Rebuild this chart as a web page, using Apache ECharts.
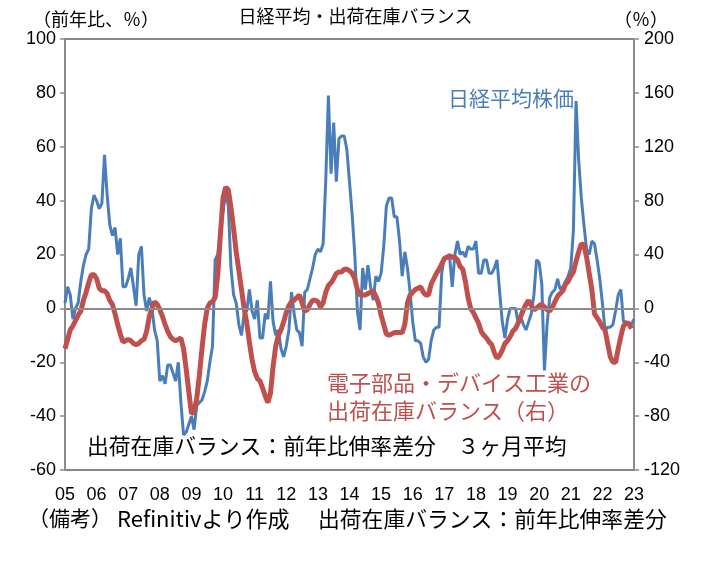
<!DOCTYPE html>
<html>
<head>
<meta charset="utf-8">
<script src="https://cdn.jsdelivr.net/npm/echarts@6/dist/echarts.min.js"></script>
<style>
  html, body { margin: 0; padding: 0; background: #fff; }
  #chart { width: 711px; height: 561px; }
</style>
</head>
<body>
<div id="chart"></div>
<script>
// 月次: 2005年1月〜2023年1月
const startYear = 2005;
const months = [];
for (let i = 0; i < 217; i++) {
  const y = startYear + Math.floor(i / 12);
  const m = (i % 12) + 1;
  months.push(y + "-" + (m < 10 ? "0" + m : m));
}

// 日経平均株価 前年比 (%) 左軸
const nikkei = [
  2, 8, 5, -4, 0, 2, 10, 16, 20, 22, 37, 42,
  40, 37, 39, 57, 42, 31, 27, 30, 20, 26, 8, 8,
  11, 15, 8, 1, 20, 23, 5, -1, 4, 0, -8, -12,
  -27, -25, -28, -21, -21, -24, -27, -20, -35, -47, -46, -43,
  -40, -45, -36, -35, -34, -31, -27, -20, -14, 18, 20, 30,
  36, 43, 38, 15, 5, 2, -6, -10, -2, -1, 7, -1,
  -4, 3, -11, -11, -2, -4, 10, -5, -10, -8, -15, -18,
  -14, -8, 6, -2, -8, -9, -14, 6, 7, 11, 15, 20,
  22, 21, 24, 48, 79, 50, 69, 47, 63, 64, 64, 59,
  47, 35, 20, -1, -8, 15, 7, 16, 8, 3, 12, 10,
  13, 23, 38, 41, 41, 34, 34, 25, 12, 21, 15, 6,
  -5, -12, -12, -13, -18, -20, -19, -12, -8, -7, -7, 13,
  19, 19, 19, 8, 20, 25, 20, 21, 19, 23, 22, 22,
  25, 13, 13, 18, 18, 13, 13, 15, 18, 6, -5, -11,
  -4, 0, 0, 0, -5, -3, -6, -8, -5, -2, 5, 18,
  17, 9, -23, -6, 4, 6, 7, 11, 7, 8, 10, 12,
  15, 29, 77, 55, 41, 31, 22, 20, 25, 24, 18, 11,
  2, -8, -7, -7, -6, -1, 5, 7, -5, -5, -6, -6,
  -4
];

// 電子部品・デバイス工業 出荷在庫バランス 3ヶ月平均 右軸
const balance = [
  -30, -23, -16, -13, -9, -5, -2, 6, 12, 19, 25, 25,
  22, 15, 13, 13, 11, 6, 3, -4, -12, -19, -25, -24,
  -23, -24, -26, -27, -26, -24, -23, -17, -6, 0, 5, 3,
  -1, -6, -12, -17, -21, -23, -24, -23, -22, -30, -45, -62,
  -78, -77, -67, -50, -30, -12, 0, 4, 5, 8, 25, 55,
  82, 90, 88, 75, 59, 42, 28, 14, 0, -11, -25, -38,
  -47, -52, -54, -59, -65, -70, -63, -43, -28, -20, -16, -10,
  -3, 2, 5, 6, 8, 10, 4, -2, -1, 3, 6, 6,
  5, 1, 4, 12, 17, 19, 22, 26, 27, 27, 29, 29,
  28, 26, 22, 14, 10, 10, 10, 11, 12, 13, 9, 4,
  -5, -12, -19, -20, -19, -18, -18, -18, -18, -12, 4, 10,
  12, 14, 15, 16, 12, 10, 10, 18, 22, 26, 29, 33,
  37, 38, 39, 38, 38, 36, 31, 29, 20, 8, 0, -3,
  -7, -11, -17, -20, -22, -25, -27, -33, -37, -35, -31, -26,
  -24, -21, -17, -15, -11, -6, -1, 3, 6, 2, -1, 0,
  2, 3, 1, -1, -2, 1, 5, 9, 11, 13, 18, 20,
  24, 27, 35, 42, 48, 47, 38, 26, 14, -4, -7, -10,
  -14, -16, -26, -36, -40, -40, -30, -21, -13, -11, -11, -15
];

const leftTicks = { min: -60, max: 100, interval: 20 };
const rightTicks = { min: -120, max: 200, interval: 40 };

const numFont = '"Liberation Sans Narrow", "Liberation Sans", sans-serif';
const jpFont = '"Noto Sans CJK JP", "Noto Sans CJK SC", sans-serif';

const myChart = echarts.init(document.getElementById("chart"));
const option = {
  animation: false,
  backgroundColor: "#fff",
  grid: {
    left: 65,
    right: 77,
    top: 39,
    bottom: 91,
    show: true,
    borderColor: "#5f5f5f",
    borderWidth: 1.5,
  },
  xAxis: {
    type: "category",
    data: months,
    boundaryGap: false,
    axisLine: { show: false, onZero: false },
    axisTick: { show: false },
    splitLine: { show: false },
    axisLabel: {
      interval: (idx, val) => val.slice(5) === "01",
      formatter: (val) => val.slice(2, 4),
      color: "#000",
      fontSize: 18,
      fontFamily: numFont,
      margin: 16,
    },
  },
  yAxis: [
    {
      type: "value",
      min: leftTicks.min,
      max: leftTicks.max,
      interval: leftTicks.interval,
      axisLine: { show: true, lineStyle: { color: "#8c8c8c", width: 2 } },
      axisTick: { show: true, length: 5, lineStyle: { color: "#8c8c8c", width: 1.5 } },
      splitLine: { show: false },
      axisLabel: { color: "#000", fontSize: 18, fontFamily: numFont, margin: 9 },
    },
    {
      type: "value",
      min: rightTicks.min,
      max: rightTicks.max,
      interval: rightTicks.interval,
      axisLine: { show: true, lineStyle: { color: "#8c8c8c", width: 2 } },
      axisTick: { show: true, length: 5, lineStyle: { color: "#8c8c8c", width: 1.5 } },
      splitLine: { show: false },
      axisLabel: { color: "#000", fontSize: 18, fontFamily: numFont, margin: 10 },
    },
  ],
  graphic: [
    { type: "text", left: "center", top: 7, style: { text: "日経平均・出荷在庫バランス", font: "18px " + jpFont, fill: "#000" } },
    { type: "text", left: 33, top: 10, style: { text: "（前年比、％）", font: "18px " + jpFont, fill: "#000" } },
    { type: "text", left: 614, top: 10, style: { text: "（％）", font: "18px " + jpFont, fill: "#000" } },
    { type: "text", left: 448, top: 88, style: { text: "日経平均株価", font: "21px " + jpFont, fill: "#4a7ebb" } },
    { type: "text", left: 327, top: 372, style: { text: "電子部品・デバイス工業の", font: "22px " + jpFont, fill: "#c0504d" } },
    { type: "text", left: 327, top: 400, style: { text: "出荷在庫バランス（右）", font: "22px " + jpFont, fill: "#c0504d" } },
    { type: "text", left: 87, top: 435, style: { text: "出荷在庫バランス：前年比伸率差分　３ヶ月平均", font: "21.8px " + jpFont, fill: "#000" } },
    { type: "text", left: 28, top: 508, style: { text: "（備考）", font: "21px " + jpFont, fill: "#000" } },
    { type: "text", left: 117, top: 508, style: { text: "Refinitivより作成", font: "22px " + jpFont, fill: "#000" } },
    { type: "text", left: 318, top: 508, style: { text: "出荷在庫バランス：前年比伸率差分", font: "21.8px " + jpFont, fill: "#000" } },
  ],
  series: [
    {
      name: "日経平均株価",
      type: "line",
      yAxisIndex: 0,
      data: nikkei,
      symbol: "none",
      lineStyle: { color: "#4a7ebb", width: 3 },
      z: 2,
      markLine: {
        silent: true,
        symbol: "none",
        label: { show: false },
        lineStyle: { color: "#8c8c8c", width: 2, type: "solid" },
        data: [{ yAxis: 0 }],
      },
    },
    {
      name: "出荷在庫バランス",
      type: "line",
      yAxisIndex: 1,
      data: balance,
      symbol: "none",
      lineStyle: { color: "#c0504d", width: 5 },
      z: 3,
    },
  ],
};
myChart.setOption(option);
</script>
</body>
</html>
